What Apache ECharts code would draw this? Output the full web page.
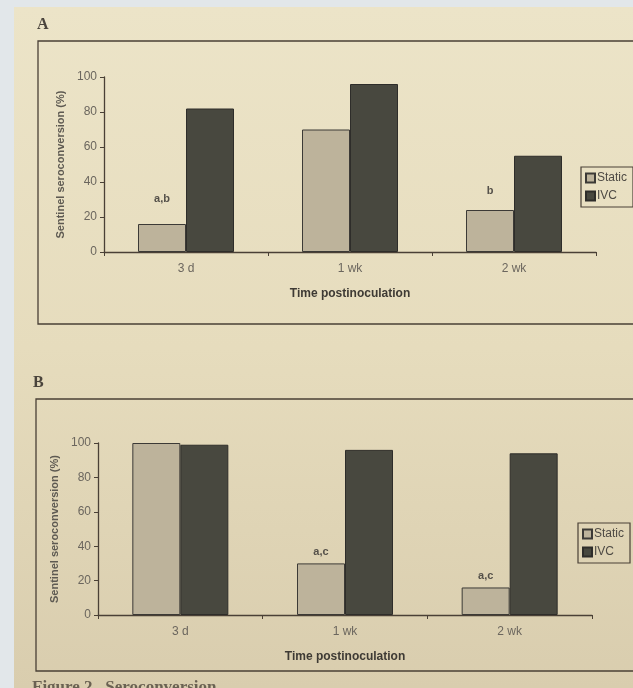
<!DOCTYPE html>
<html>
<head>
<meta charset="utf-8">
<script src="https://cdn.jsdelivr.net/npm/echarts@6/dist/echarts.min.js"></script>
<style>
html,body{margin:0;padding:0;background:#e2e7ea;}
#paper{position:absolute;left:14px;top:7px;width:619px;height:681px;background:linear-gradient(#ece4c8,#e6dcbd 50%,#d9cdae);}
#chart{position:absolute;left:0;top:0;width:633px;height:688px;}
</style>
</head>
<body>
<div id="paper"></div>
<div id="chart"></div>
<script>
const categories = ['3 d', '1 wk', '2 wk'];
const staticA = [16, 70, 24];
const ivcA = [82, 96, 55];
const staticB = [100, 30, 16];
const ivcB = [99, 96, 94];
const notesA = ['a,b', '', 'b'];
const notesB = ['', 'a,c', 'a,c'];
const yTicks = [0, 20, 40, 60, 80, 100];

const chart = echarts.init(document.getElementById('chart'), null, {renderer: 'canvas'});
const txt = '#6b665e';
const line = '#4a4036';
const lightBar = '#bdb39b';
const darkBar = '#48483f';
const font = 'Liberation Sans';

function xAxis(gi){
  return {type:'category', gridIndex:gi, data:categories,
    axisLine:{lineStyle:{color:line, width:1.3}},
    axisTick:{show:true, alignWithLabel:false, length:4, lineStyle:{color:line}},
    axisLabel:{color:txt, fontSize:12, fontFamily:font, margin:11},
    name:'Time postinoculation', nameLocation:'middle', nameGap:36,
    nameTextStyle:{color:'#3e3a34', fontSize:12, fontWeight:'bold', fontFamily:font}};
}
function yAxis(gi){
  return {type:'value', gridIndex:gi, min:0, max:100, interval:20,
    axisLine:{show:true, lineStyle:{color:line, width:1.3}},
    axisTick:{show:true, length:4, lineStyle:{color:line}},
    splitLine:{show:false},
    axisLabel:{color:txt, fontSize:12, fontFamily:font, margin:7,
      formatter: v => yTicks.includes(v) ? String(v) : ''},
    name:'Sentinel seroconversion (%)', nameLocation:'middle', nameGap:38,
    nameTextStyle:{color:'#5e5a52', fontSize:11, fontWeight:'bold', fontFamily:font}};
}
function withNotes(values, notes, gaps){
  return values.map((v, i) => ({value:v, label:{show:!!notes[i], distance:gaps[i], formatter:notes[i]}}));
}
const noteStyle = {position:'top', color:'#55514a', fontSize:11, fontWeight:'bold', fontFamily:font};
const barCommon = {type:'bar', barWidth:48, barGap:'0%'};

chart.setOption({
  backgroundColor:'transparent',
  animation:false,
  grid:[
    {left:104, right:37, top:77, height:175},
    {left:98, right:41, top:443, height:172}
  ],
  xAxis:[xAxis(0), xAxis(1)],
  yAxis:[yAxis(0), yAxis(1)],
  legend:[
    {orient:'vertical', left:581, top:167, itemWidth:9, itemHeight:9, itemGap:6, icon:'rect',
     padding:[5,6,5,4], borderColor:line, borderWidth:1.2,
     textStyle:{color:'#4e4a44', fontSize:12, fontFamily:font, padding:[0,0,0,-3]},
     data:['Static','IVC']},
    {orient:'vertical', left:578, top:523, itemWidth:9, itemHeight:9, itemGap:6, icon:'rect',
     padding:[5,6,5,4], borderColor:line, borderWidth:1.2,
     textStyle:{color:'#4e4a44', fontSize:12, fontFamily:font, padding:[0,0,0,-3]},
     data:['Static','IVC']}
  ],
  graphic:[
    {type:'text', left:37, top:17, style:{text:'A', font:'bold 16px "Liberation Serif"', fill:'#4a443c'}},
    {type:'text', left:33, top:375, style:{text:'B', font:'bold 16px "Liberation Serif"', fill:'#4a443c'}},
    {type:'rect', shape:{x:38, y:41, width:620, height:283}, style:{fill:'none', stroke:line, lineWidth:1.3}, z:-1},
    {type:'rect', shape:{x:36, y:399, width:620, height:272}, style:{fill:'none', stroke:line, lineWidth:1.3}, z:-1},
    {type:'text', left:32, top:679, style:{text:'Figure 2.  Seroconversion', font:'bold 17px "Liberation Serif"', fill:'#6a6152'}}
  ],
  series:[
    Object.assign({name:'Static', xAxisIndex:0, yAxisIndex:0, data:withNotes(staticA, notesA, [20, 0, 14]),
      itemStyle:{color:lightBar, borderColor:'#3c3a36', borderWidth:1}, label:noteStyle}, barCommon),
    Object.assign({name:'IVC', xAxisIndex:0, yAxisIndex:0, data:ivcA,
      itemStyle:{color:darkBar, borderColor:'#2e2d2a', borderWidth:1}}, barCommon),
    Object.assign({name:'Static', xAxisIndex:1, yAxisIndex:1, data:withNotes(staticB, notesB, [0, 6, 6]),
      itemStyle:{color:lightBar, borderColor:'#3c3a36', borderWidth:1}, label:noteStyle}, barCommon),
    Object.assign({name:'IVC', xAxisIndex:1, yAxisIndex:1, data:ivcB,
      itemStyle:{color:darkBar, borderColor:'#2e2d2a', borderWidth:1}}, barCommon)
  ]
});
</script>
</body>
</html>
